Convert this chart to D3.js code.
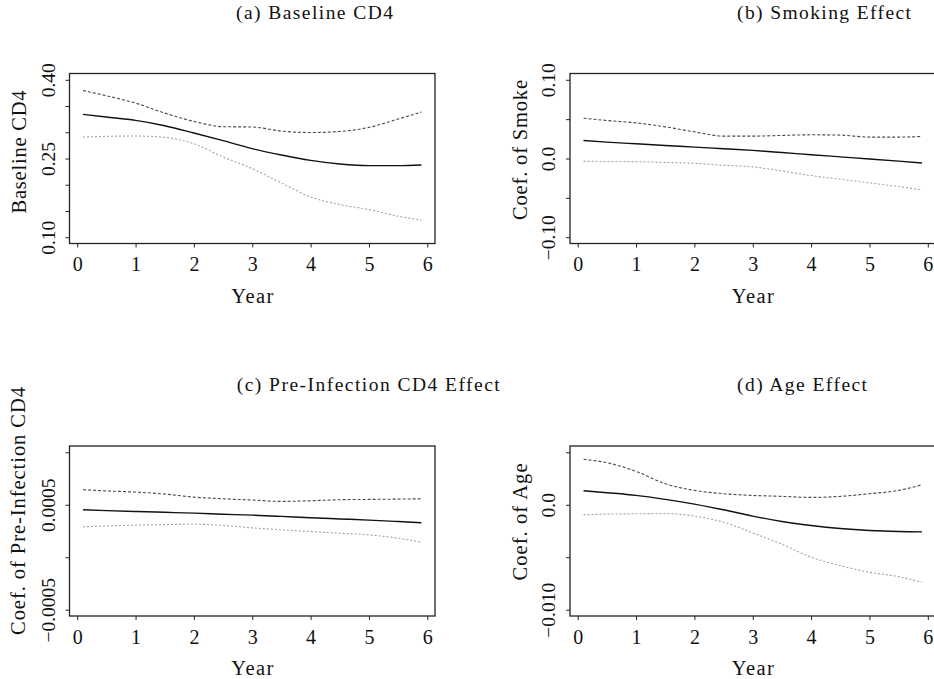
<!DOCTYPE html>
<html>
<head>
<meta charset="utf-8">
<script src="https://cdn.jsdelivr.net/npm/d3@7"></script>
<style>
  html, body { margin: 0; padding: 0; background: #fff; }
  svg { display: block; }
  text { font-family: "Liberation Serif", "DejaVu Serif", serif; fill: #111; }
</style>
</head>
<body>
<svg id="chart" width="934" height="679"></svg>
<script>
// ---------- data ----------
const years = [0.1, 0.5, 1, 1.5, 2, 2.5, 3, 3.5, 4, 4.5, 5, 5.5, 5.9];
const xTicks = [0, 1, 2, 3, 4, 5, 6];

// (a) Baseline CD4
const aFit   = [0.334, 0.329, 0.3226, 0.3125, 0.2985, 0.284, 0.2687, 0.2567, 0.2465, 0.2396, 0.2364, 0.2364, 0.2377];
const aUpper = [0.3797, 0.3696, 0.3556, 0.3366, 0.3207, 0.3106, 0.3100, 0.3023, 0.2995, 0.3015, 0.3093, 0.3252, 0.3385];
const aLower = [0.2909, 0.2922, 0.2928, 0.2903, 0.2782, 0.2529, 0.2307, 0.2034, 0.1768, 0.1622, 0.1527, 0.1400, 0.1324];
const aYTicks = [0.10, 0.15, 0.20, 0.25, 0.30, 0.35, 0.40];
const aYLabels = {"0.1": "0.10", "0.25": "0.25", "0.4": "0.40"};

// (b) Smoking Effect
const bFit   = [0.0229, 0.0208, 0.0187, 0.0166, 0.0145, 0.0124, 0.0103, 0.0076, 0.0048, 0.0021, -0.0006, -0.0034, -0.0057];
const bUpper = [0.0512, 0.0483, 0.0453, 0.0402, 0.0339, 0.0284, 0.0284, 0.0293, 0.0301, 0.0297, 0.0272, 0.0272, 0.0280];
const bLower = [-0.0036, -0.0038, -0.0040, -0.0050, -0.0061, -0.0086, -0.0107, -0.0158, -0.0217, -0.0263, -0.0310, -0.0356, -0.0398];
const bYTicks = [-0.10, -0.05, 0, 0.05, 0.10];
const bYLabels = {"-0.1": "\u22120.10", "0": "0.0", "0.1": "0.10"};

// (c) Pre-Infection CD4 Effect
const cFit   = [0.000452, 0.000444, 0.000436, 0.000428, 0.000420, 0.000410, 0.000401, 0.000389, 0.000376, 0.000365, 0.000354, 0.000340, 0.000328];
const cUpper = [0.000643, 0.000632, 0.000621, 0.000602, 0.000573, 0.000557, 0.000545, 0.000532, 0.000538, 0.000548, 0.000551, 0.000554, 0.000557];
const cLower = [0.000290, 0.000298, 0.000306, 0.000311, 0.000315, 0.000303, 0.000280, 0.000261, 0.000245, 0.000229, 0.000213, 0.000182, 0.000143];
const cYTicks = [-0.0005, 0, 0.0005, 0.001];
const cYLabels = {"-0.0005": "\u22120.0005", "0.0005": "0.0005"};

// (d) Age Effect
const dFit   = [0.00134, 0.00115, 0.00089, 0.00051, 0.00006, -0.00048, -0.00108, -0.00159, -0.00197, -0.00226, -0.00245, -0.00255, -0.00258];
const dUpper = [0.00433, 0.00401, 0.00318, 0.00200, 0.00137, 0.00105, 0.00089, 0.00080, 0.00070, 0.00080, 0.00105, 0.00137, 0.00191];
const dLower = [-0.00096, -0.00089, -0.00086, -0.00083, -0.00108, -0.00166, -0.00268, -0.00376, -0.00500, -0.00580, -0.00643, -0.00685, -0.00739];
const dYTicks = [-0.010, -0.005, 0, 0.005];
const dYLabels = {"-0.01": "\u22120.010", "0": "0.0"};

const titles = ["(a) Baseline CD4", "(b) Smoking Effect", "(c) Pre-Infection CD4 Effect", "(d) Age Effect"];
const yTitles = ["Baseline CD4", "Coef. of Smoke", "Coef. of Pre-Infection CD4", "Coef. of Age"];
const xTitle = "Year";

// ---------- layout ----------
const panels = [
  { fit: aFit, up: aUpper, lo: aLower, ylim: [0.10, 0.40], yt: aYTicks, yl: aYLabels,
    x0: 69.5, y0: 73.5, tX: 236, tY: 19, tLen: 157, yX: 26, yCY: 152, yLen: 123 },
  { fit: bFit, up: bUpper, lo: bLower, ylim: [-0.10, 0.10], yt: bYTicks, yl: bYLabels,
    x0: 570, y0: 73.5, tX: 737, tY: 19, tLen: 174, yX: 526.7, yCY: 150, yLen: 140 },
  { fit: cFit, up: cUpper, lo: cLower, ylim: [-0.0005, 0.001], yt: cYTicks, yl: cYLabels,
    x0: 69.5, y0: 446, tX: 236.7, tY: 390.5, tLen: 263, yX: 25, yCY: 511, yLen: 248 },
  { fit: dFit, up: dUpper, lo: dLower, ylim: [-0.010, 0.005], yt: dYTicks, yl: dYLabels,
    x0: 570, y0: 446, tX: 737, tY: 390.5, tLen: 130, yX: 526.7, yCY: 522, yLen: 117 }
];
const PW = 365.5, PH = 170;

const svg = d3.select("#chart");

function ext(lim) { const d = (lim[1] - lim[0]) * 0.04; return [lim[0] - d, lim[1] + d]; }

panels.forEach((p, i) => {
  const xExt = ext([years[0], years[years.length - 1]]);
  const x = d3.scaleLinear().domain(xExt).range([p.x0, p.x0 + PW]);
  const y = d3.scaleLinear().domain(ext(p.ylim)).range([p.y0 + PH, p.y0]);

  // title
  svg.append("text")
    .attr("x", p.tX).attr("y", p.tY)
    .attr("font-size", 19.5)
    .attr("textLength", p.tLen).attr("lengthAdjust", "spacing")
    .text(titles[i]);

  // series
  const line = (vals) => d3.line().curve(d3.curveMonotoneX)
    .x((d, k) => x(years[k])).y(d => y(d))(vals);

  svg.append("path").attr("d", line(p.up))
    .attr("fill", "none").attr("stroke", "#4a4a4a").attr("stroke-width", 1.1)
    .attr("stroke-dasharray", "3,2");
  svg.append("path").attr("d", line(p.lo))
    .attr("fill", "none").attr("stroke", "#a3a3a3").attr("stroke-width", 1.1)
    .attr("stroke-dasharray", "2,2");
  svg.append("path").attr("d", line(p.fit))
    .attr("fill", "none").attr("stroke", "#111").attr("stroke-width", 1.4);

  // box
  svg.append("rect")
    .attr("x", p.x0).attr("y", p.y0).attr("width", PW).attr("height", PH)
    .attr("fill", "none").attr("stroke", "#222").attr("stroke-width", 1.3);

  // x axis
  const gx = svg.append("g").attr("transform", `translate(0,${p.y0 + PH})`)
    .call(d3.axisBottom(x).tickValues(xTicks).tickSize(4).tickSizeOuter(0).tickPadding(6).tickFormat(d3.format("d")));
  gx.select(".domain").remove();
  gx.selectAll(".tick line").attr("stroke", "#222");
  gx.selectAll(".tick text")
    .attr("font-family", "Liberation Serif, serif").attr("font-size", 20).attr("fill", "#111")
    .attr("y", 27.5).attr("dy", 0);

  // x title
  svg.append("text")
    .attr("x", p.x0 + PW / 2).attr("y", p.y0 + PH + 59)
    .attr("text-anchor", "middle").attr("font-size", 20.5)
    .attr("textLength", 42).attr("lengthAdjust", "spacing")
    .text(xTitle);

  // y axis
  const gy = svg.append("g").attr("transform", `translate(${p.x0},0)`)
    .call(d3.axisLeft(y).tickValues(p.yt).tickSize(4).tickSizeOuter(0)
      .tickFormat(d => p.yl[String(+d.toFixed(6))] || ""));
  gy.select(".domain").remove();
  gy.selectAll(".tick line").attr("stroke", "#222");
  gy.selectAll(".tick text")
    .attr("font-family", "Liberation Serif, serif").attr("font-size", 19.5).attr("fill", "#111")
    .attr("text-anchor", "middle")
    .attr("transform", "rotate(-90)")
    .attr("x", 0).attr("y", -15).attr("dy", 0);

  // y title
  svg.append("text")
    .attr("transform", `translate(${p.yX},${p.yCY}) rotate(-90)`)
    .attr("text-anchor", "middle").attr("font-size", 20.5)
    .attr("textLength", p.yLen).attr("lengthAdjust", "spacing")
    .text(yTitles[i]);
});
</script>
</body>
</html>
